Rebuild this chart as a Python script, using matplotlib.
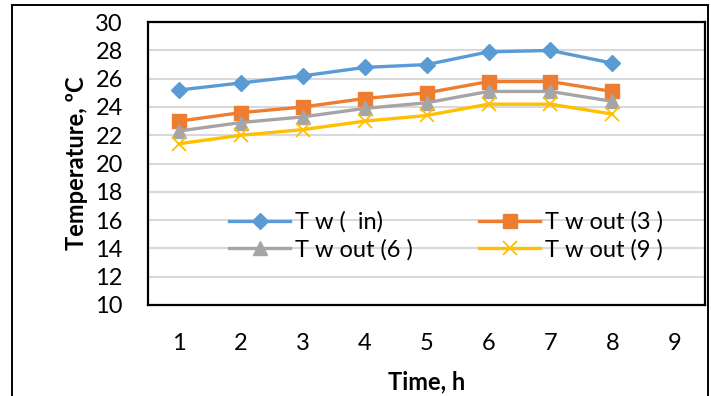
import matplotlib.pyplot as plt
from matplotlib.patches import Rectangle

plt.rcParams['font.family'] = ['Lato', 'DejaVu Sans']

hours = [1, 2, 3, 4, 5, 6, 7, 8]
t_in = [25.2, 25.7, 26.2, 26.8, 27.0, 27.9, 28.0, 27.1]
t_out3 = [23.0, 23.6, 24.0, 24.6, 25.0, 25.8, 25.8, 25.1]
t_out6 = [22.3, 22.9, 23.3, 23.9, 24.3, 25.1, 25.1, 24.4]
t_out9 = [21.4, 22.0, 22.4, 23.0, 23.4, 24.2, 24.2, 23.5]
xticks = [1, 2, 3, 4, 5, 6, 7, 8, 9]
yticks = [10, 12, 14, 16, 18, 20, 22, 24, 26, 28, 30]

fig = plt.figure(figsize=(7.11, 3.96), dpi=100)
ax = fig.add_axes([0.208, 0.23, 0.784, 0.714])

# outer chart border
fig.patches.append(Rectangle((12 / 711, -0.05), 696 / 711, 1 - 5 / 396 + 0.05,
                             transform=fig.transFigure, fill=False,
                             edgecolor='black', linewidth=1.4))

l1, = ax.plot(hours, t_in, color='#5B9BD5', lw=2.4, marker='D', ms=8, label='T w (  in)')
l2, = ax.plot(hours, t_out3, color='#ED7D31', lw=2.4, marker='s', ms=10, label='T w out (3 )')
l3, = ax.plot(hours, t_out6, color='#A5A5A5', lw=2.4, marker='^', ms=10, label='T w out (6 )')
l4, = ax.plot(hours, t_out9, color='#FFC000', lw=2.4, marker='x', ms=10, mew=1.3, label='T w out (9 )')

ax.set_xlim(0.5, 9.5)
ax.set_ylim(10, 30)
ax.set_xticks(xticks)
ax.set_yticks(yticks)
ax.tick_params(length=0, labelsize=17, pad=20)
ax.tick_params(axis='y', pad=18)
ax.grid(axis='y', color='#d9d9d9', lw=1.5)
ax.set_axisbelow(True)
for s in ax.spines.values():
    s.set_linewidth(1.6)

ax.set_xlabel('Time, h', fontsize=17, fontweight='bold', labelpad=12)
ax.set_ylabel('Temperature, ºC', fontsize=17, fontweight='bold', labelpad=5)

# legend filled row by row: in, out3 / out6, out9
ax.legend([l1, l3, l2, l4], [l1.get_label(), l3.get_label(), l2.get_label(), l4.get_label()],
          ncol=2, loc='center', bbox_to_anchor=(0.535, 0.244), frameon=False,
          fontsize=17, handlelength=2.6, columnspacing=2.8, labelspacing=0.25,
          handletextpad=0.2, borderpad=0)

plt.savefig('out.png', dpi=100)
